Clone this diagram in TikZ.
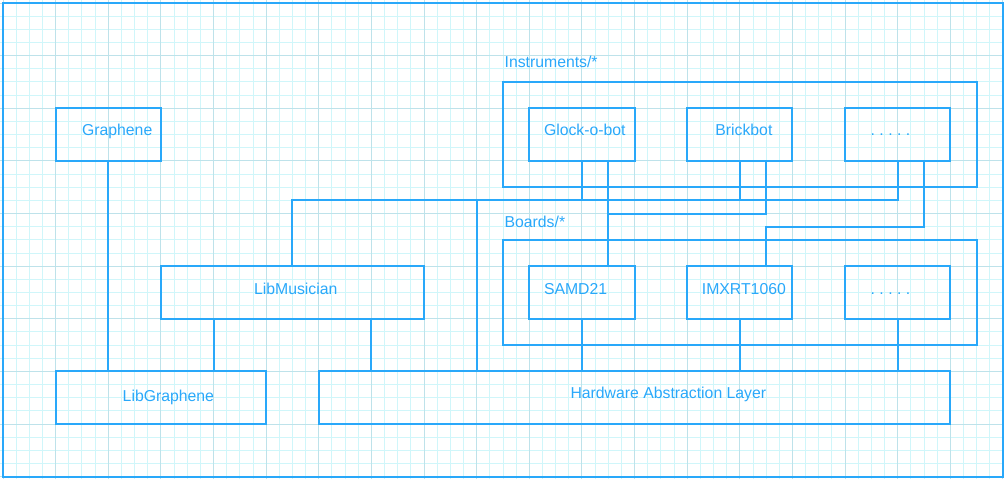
\documentclass[tikz,border=0pt]{standalone}
\usepackage{fontspec}
\setmainfont{Liberation Sans}
\usetikzlibrary{positioning}
\definecolor{hw}{RGB}{41,168,250}
\definecolor{gridmin}{RGB}{208,246,250}
\definecolor{gridmaj}{RGB}{190,226,234}
\frenchspacing

\begin{document}
\begin{tikzpicture}[x=1pt,y=-1pt,line width=1.5pt,node distance=40pt,
  box/.style={draw=hw,outer sep=0pt,inner sep=0pt,minimum width=80pt,minimum height=40pt},
  group/.style={box,minimum width=360pt,minimum height=80pt},
  txt/.style={text=hw,font=\fontsize{12}{14}\selectfont,inner sep=0pt,text height=8.6pt,text depth=2.5pt},
  wire/.style={draw=hw}]
  \useasboundingbox (-2.28,-2.28) rectangle (760.8,361.8);
  \draw[gridmin,line width=0.7pt] (-2.28,361.8) grid[step=10pt] (760.8,-2.28);
  \draw[gridmaj,line width=0.7pt] (-2.28,361.8) grid[step=40pt] (760.8,-2.28);
  \node[box,anchor=north west,minimum width=760pt,minimum height=360pt] (frame) at (0,0) {};

  \node[group,label={[txt,anchor=base west,xshift=0.5pt,yshift=11pt]north west:Instruments/*}] (instruments) at (560,100) {};
  \node[group,label={[txt,anchor=base west,xshift=0.5pt,yshift=9pt]north west:Boards/*}] (boards) at (560,220) {};

  \node[box,label={[txt,xshift=2.2pt,yshift=2.3pt]center:Glock-o-bot}] (glock) at (440,100) {};
  \node[box,right=of glock,label={[txt,xshift=3.1pt,yshift=2.3pt]center:Brickbot}] (brickbot) {};
  \node[box,right=of brickbot,label={[txt,xshift=-5.5pt,yshift=2.3pt]center:. . . . .}] (moreinst) {};
  \node[box,below=80pt of glock,label={[txt,xshift=-4.8pt,yshift=1.8pt]center:SAMD21}] (samd) {};
  \node[box,below=80pt of brickbot,label={[txt,xshift=3.1pt,yshift=1.8pt]center:IMXRT1060}] (imxrt) {};
  \node[box,below=80pt of moreinst,label={[txt,xshift=-5.5pt,yshift=1.8pt]center:. . . . .}] (moreboard) {};

  \node[box,label={[txt,xshift=6.8pt,yshift=2.6pt]center:Graphene}] (graphene) at (80,100) {};
  \node[box,minimum width=160pt,label={[txt,xshift=5.7pt]center:LibGraphene}] (libgraphene) at (120,300) {};
  \node[box,minimum width=200pt,label={[txt,xshift=2.5pt,yshift=1.8pt]center:LibMusician}] (libmusician) at (220,220) {};
  \node[box,minimum width=480pt,label={[txt,xshift=25.7pt,yshift=2.4pt]center:Hardware Abstraction Layer}] (hal) at (480,300) {};

  \draw[wire] (graphene.south) -- (graphene.south |- libgraphene.north);
  \draw[wire] ([xshift=-60pt]libmusician.south) -- ([xshift=-60pt]libmusician.south |- libgraphene.north);
  \draw[wire] ([xshift=60pt]libmusician.south) -- ([xshift=60pt]libmusician.south |- hal.north);
  \foreach \b in {samd,imxrt,moreboard}
    \draw[wire] (\b.south) -- (\b.south |- hal.north);

  \coordinate (busa) at (220,150);
  \draw[wire] (libmusician.north) -- (busa) -| (moreinst.south);
  \draw[wire] (glock.south) -- (glock.south |- busa);
  \draw[wire] (brickbot.south) -- (brickbot.south |- busa);
  \draw[wire] ([xshift=-120pt]hal.north) -- ([xshift=-120pt]hal.north |- busa);

  \coordinate (busb) at (460,160);
  \coordinate (busc) at (580,170);
  \draw[wire] ([xshift=20pt]glock.south) -- ([xshift=20pt]samd.north);
  \draw[wire] ([xshift=20pt]brickbot.south) |- (busb);
  \draw[wire] ([xshift=20pt]moreinst.south) |- (busc) -- ([xshift=20pt]imxrt.north);
\end{tikzpicture}
\end{document}
